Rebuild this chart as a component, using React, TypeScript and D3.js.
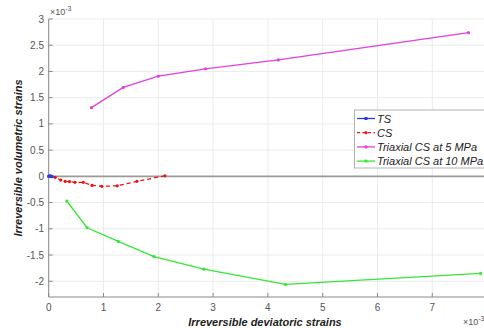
import React from "react";
import * as d3 from "d3";

const tsX = [0, 0.02, 0.04, 0.06];
const tsY = [0, 0.01, 0, -0.005];
const csX = [0.05, 0.12, 0.22, 0.3, 0.38, 0.48, 0.63, 0.79, 0.97, 1.25, 1.61, 2.12];
const csY = [0, -0.02, -0.07, -0.095, -0.1, -0.114, -0.114, -0.17, -0.19, -0.18, -0.095, 0.01];
const t5X = [0.78, 1.36, 2.0, 2.86, 4.19, 7.66];
const t5Y = [1.31, 1.695, 1.91, 2.05, 2.22, 2.74];
const t10X = [0.33, 0.7, 1.27, 1.92, 2.83, 4.32, 7.88];
const t10Y = [-0.47, -0.98, -1.24, -1.53, -1.77, -2.06, -1.85];
const xTicks = [0, 1, 2, 3, 4, 5, 6, 7];
const yTicks = [-2, -1.5, -1, -0.5, 0, 0.5, 1, 1.5, 2, 2.5, 3];
const legendLabels = ["TS", "CS", "Triaxial CS at 5 MPa", "Triaxial CS at 10 MPa"];

const W = 484, H = 328;
const left = 48.7, right = 487.1, top = 19, bottom = 297;

export default function App() {
  const x = d3.scaleLinear().domain([0, 8]).range([left, right]);
  const y = d3.scaleLinear().domain([-2.3, 3]).range([bottom, top]);
  const line = d3.line<[number, number]>().x(d => x(d[0])).y(d => y(d[1]));
  const zip = (a: number[], b: number[]) => a.map((v, i) => [v, b[i]] as [number, number]);

  const series = [
    { data: zip(tsX, tsY), color: "#2b3de0", dash: "", marker: "sq" },
    { data: zip(csX, csY), color: "#ee1111", dash: "4,3", marker: "dot" },
    { data: zip(t5X, t5Y), color: "#e040e0", dash: "", marker: "dot" },
    { data: zip(t10X, t10Y), color: "#33e833", dash: "", marker: "dot" },
  ];
  const drawOrder = [1, 2, 3, 0];
  const font = "'Liberation Sans', Arial, sans-serif";

  return (
    <svg width={W} height={H} style={{ position: "absolute", left: 0, top: 0, background: "#fff" }} fontFamily={font}>
      <defs>
        <clipPath id="plot">
          <rect x={left - 3} y={top} width={right - left + 3} height={bottom - top} />
        </clipPath>
      </defs>
      {xTicks.map(t => (
        <line key={"gx" + t} x1={x(t)} x2={x(t)} y1={top} y2={bottom} stroke="#e6e6e6" strokeWidth={0.8} />
      ))}
      {yTicks.map(t => (
        <line key={"gy" + t} x1={left} x2={right} y1={y(t)} y2={y(t)} stroke="#e6e6e6" strokeWidth={0.8} />
      ))}
      <line x1={left} x2={W} y1={y(0)} y2={y(0)} stroke="#9a9a9a" strokeWidth={1.6} />
      <line x1={left} x2={left} y1={top} y2={bottom} stroke="#8a8a8a" strokeWidth={1} />
      <line x1={left} x2={W} y1={bottom} y2={bottom} stroke="#8a8a8a" strokeWidth={1} />
      {xTicks.map(t => (
        <g key={"xt" + t}>
          <line x1={x(t)} x2={x(t)} y1={bottom} y2={bottom - 4} stroke="#8a8a8a" />
          <text x={x(t)} y={311} textAnchor="middle" fontSize={10} fill="#555">{t}</text>
        </g>
      ))}
      {yTicks.map(t => (
        <g key={"yt" + t}>
          <line x1={left} x2={left + 4} y1={y(t)} y2={y(t)} stroke="#8a8a8a" />
          <text x={44} y={y(t) + 3.5} textAnchor="end" fontSize={10} fill="#555">{t}</text>
        </g>
      ))}
      <text x={50} y={15} fontSize={9} fill="#555">×10<tspan dy={-4} fontSize={7}>-3</tspan></text>
      <text x={463} y={325} fontSize={9} fill="#555">×10<tspan dy={-4} fontSize={7}>-3</tspan></text>
      <g clipPath="url(#plot)">
        {drawOrder.map(i => {
          const s = series[i];
          return (
            <g key={"s" + i}>
              <path d={line(s.data) || ""} fill="none" stroke={s.color} strokeWidth={1.3} strokeDasharray={s.dash} />
              {s.data.map((d, j) =>
                s.marker === "sq" ? (
                  <rect key={j} x={x(d[0]) - 1.5} y={y(d[1]) - 1.5} width={3} height={3} fill={s.color} />
                ) : (
                  <circle key={j} cx={x(d[0])} cy={y(d[1])} r={1.6} fill={s.color} />
                )
              )}
            </g>
          );
        })}
      </g>
      <text x={265} y={326} textAnchor="middle" fontSize={11} fontWeight="bold" fontStyle="italic" fill="#222">
        Irreversible deviatoric strains
      </text>
      <text transform={`translate(22,${(top + bottom) / 2}) rotate(-90)`} textAnchor="middle" fontSize={11} fontWeight="bold" fontStyle="italic" fill="#222">
        Irreversible volumetric strains
      </text>
      <rect x={354.5} y={110} width={140} height={58} fill="#fff" stroke="#a0a0a0" strokeWidth={0.8} />
      {series.map((s, i) => {
        const ly = 118.5 + i * 14.2;
        return (
          <g key={"l" + i}>
            <line x1={357} x2={375} y1={ly} y2={ly} stroke={s.color} strokeWidth={1.3} strokeDasharray={s.dash ? "3,2.5" : ""} />
            {s.marker === "sq" ? (
              <rect x={364.5} y={ly - 1.5} width={3} height={3} fill={s.color} />
            ) : (
              <circle cx={366} cy={ly} r={1.6} fill={s.color} />
            )}
            <text x={377} y={ly + 4} fontSize={11} fontStyle="italic" fill="#222">{legendLabels[i]}</text>
          </g>
        );
      })}
    </svg>
  );
}
